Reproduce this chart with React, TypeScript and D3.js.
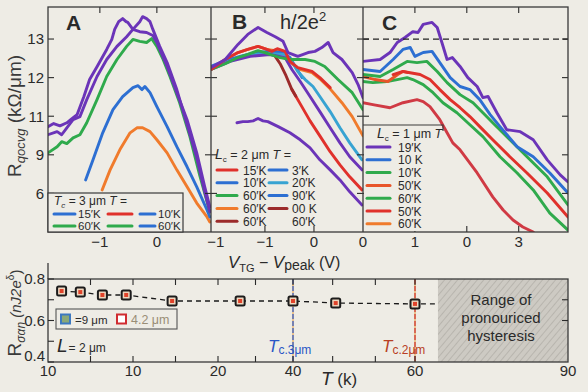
import React from 'react';
import * as d3 from 'd3';

type Pt = [number, number];

// ---------- top row: R vs V_TG - V_peak ----------
const levelTicks = [13, 12, 11, 10, 9];
const levelTickLabels = ['13', '12', '11', '9', '6'];

const aTicks = [-1, 0];
const aTickLabels = ['−1', '0'];
const bTicks = [-2, -1, 0, 1];
const bTickLabels = ['−1', '−1', '0', '0'];
const cTicks = [1, 2, 3];
const cTickLabels = ['1', '0', '3'];

// panel A (L = 3 um)
const aPurple1: Pt[] = [[-1.91,10.73],[-1.81,10.81],[-1.70,10.75],[-1.58,10.83],[-1.49,10.94],[-1.40,11.04],[-1.28,11.51],[-1.18,11.95],[-1.04,12.31],[-0.88,12.73],[-0.79,12.99],[-0.74,13.25],[-0.67,13.45],[-0.60,13.53],[-0.54,13.45],[-0.51,13.43],[-0.42,13.25],[-0.30,13.19],[-0.18,13.17],[-0.07,13.09],[0.00,12.91],[0.09,12.60],[0.18,12.29],[0.35,11.61],[0.53,10.91],[0.70,10.05],[0.84,9.17],[0.93,8.65]];
const aPurple2: Pt[] = [[-1.91,10.52],[-1.75,10.60],[-1.67,10.52],[-1.58,10.70],[-1.47,10.91],[-1.35,10.99],[-1.23,11.43],[-1.05,12.03],[-0.88,12.47],[-0.70,12.81],[-0.53,13.06],[-0.42,13.25],[-0.30,13.45],[-0.25,13.58],[-0.18,13.53],[-0.12,13.45],[-0.07,13.25],[0.05,12.81],[0.18,12.39],[0.35,11.69],[0.53,10.78],[0.70,9.92],[0.84,9.04],[0.93,8.52]];
const aGreen: Pt[] = [[-1.91,10.05],[-1.75,10.21],[-1.67,10.34],[-1.58,10.29],[-1.47,10.44],[-1.35,10.52],[-1.23,10.83],[-1.05,11.43],[-0.88,12.03],[-0.70,12.47],[-0.53,12.81],[-0.42,12.99],[-0.30,12.94],[-0.18,12.91],[-0.09,13.01],[0.00,12.81],[0.11,12.47],[0.23,12.03],[0.40,11.35],[0.58,10.47],[0.75,9.48],[0.93,8.52]];
const aBlue: Pt[] = [[-1.25,9.35],[-1.12,9.87],[-0.95,10.57],[-0.77,11.17],[-0.60,11.51],[-0.42,11.74],[-0.33,11.79],[-0.26,11.69],[-0.21,11.77],[-0.12,11.61],[0.00,11.25],[0.18,10.73],[0.35,10.21],[0.53,9.69],[0.70,9.17],[0.88,8.57],[0.93,8.39]];
const aOrange: Pt[] = [[-0.96,9.09],[-0.82,9.61],[-0.65,10.13],[-0.47,10.57],[-0.35,10.70],[-0.25,10.70],[-0.12,10.60],[0.00,10.39],[0.18,10.05],[0.35,9.61],[0.53,9.17],[0.70,8.75],[0.88,8.39],[0.93,8.26]];

// panel B (L = 2 um)
const bPurpleTop: Pt[] = [[-2.10,12.26],[-1.81,12.47],[-1.55,12.86],[-1.35,13.12],[-1.14,13.30],[-0.96,13.17],[-0.79,13.06],[-0.63,12.94],[-0.53,12.65],[-0.33,12.55],[-0.12,12.65],[0.02,12.68],[0.16,12.78],[0.29,12.91],[0.39,12.65],[0.57,12.47],[0.78,12.13],[0.90,11.82],[1.00,11.48]];
const bGreen: Pt[] = [[-2.10,12.21],[-1.81,12.36],[-1.55,12.52],[-1.35,12.60],[-1.14,12.70],[-1.00,12.65],[-0.90,12.60],[-0.69,12.52],[-0.49,12.47],[-0.18,12.47],[0.02,12.42],[0.22,12.29],[0.49,11.95],[0.78,11.61],[1.00,11.17]];
const bRedTop: Pt[] = [[-2.10,12.21],[-1.81,12.47],[-1.55,12.65],[-1.35,12.73],[-1.14,12.81],[-0.96,12.73],[-0.86,12.68],[-0.75,12.75],[-0.59,12.68],[-0.49,12.42],[-0.33,12.26],[-0.04,12.16],[0.12,12.00],[0.33,11.74]];
const bOrange: Pt[] = [[-2.10,12.21],[-1.81,12.47],[-1.55,12.65],[-1.35,12.73],[-1.14,12.81],[-0.96,12.73],[-0.59,12.66],[-0.49,12.42],[-0.33,12.23],[-0.04,12.13],[0.12,11.97],[0.33,11.71],[0.57,11.35],[0.78,10.99],[1.00,10.49]];
const bBlue: Pt[] = [[-2.10,12.29],[-1.81,12.44],[-1.51,12.55],[-1.20,12.65],[-0.90,12.68],[-0.65,12.65],[-0.49,12.52],[-0.37,12.26],[-0.24,12.00]];
const bTeal: Pt[] = [[-2.10,12.23],[-1.81,12.39],[-1.51,12.52],[-1.20,12.60],[-0.90,12.62],[-0.59,12.60],[-0.45,12.42],[-0.33,12.16],[-0.18,11.95],[-0.02,11.77],[0.12,11.51],[0.33,11.12],[0.53,10.70],[0.73,10.31],[0.98,9.87]];
const bPurpleMid: Pt[] = [[-2.10,12.21],[-1.71,12.42],[-1.30,12.55],[-0.90,12.60],[-0.59,12.52],[-0.45,12.21],[-0.28,11.90],[-0.08,11.51],[0.12,11.12],[0.33,10.70],[0.53,10.31],[0.73,9.95],[0.98,9.61]];
const bDarkRed: Pt[] = [[-0.79,12.55],[-0.69,12.36],[-0.57,12.05],[-0.45,11.69],[-0.37,11.52]];
const bRedSteep: Pt[] = [[-0.45,11.69],[-0.28,11.32],[-0.08,10.88],[0.12,10.49],[0.33,10.08],[0.53,9.74],[0.73,9.43],[0.98,9.09]];
const bPurpleLow: Pt[] = [[-1.57,10.83],[-1.45,10.86],[-1.35,10.86],[-1.24,10.88],[-1.14,10.94],[-1.04,10.88],[-0.94,10.86],[-0.73,10.73],[-0.49,10.57],[-0.28,10.39],[-0.08,10.18],[0.12,9.87],[0.33,9.61],[0.53,9.35],[0.73,9.04],[0.98,8.70]];

// panel C (L = 1 um)
const cPurple: Pt[] = [[0,12.42],[0.13,12.44],[0.33,12.47],[0.52,12.65],[0.66,12.91],[0.81,13.04],[0.96,13.19],[1.06,13.17],[1.16,13.38],[1.33,13.43],[1.43,13.30],[1.52,12.91],[1.62,12.47],[1.72,12.52],[1.87,12.29],[2.02,12.00],[2.20,11.77],[2.31,11.48],[2.41,11.51],[2.58,11.09],[2.77,10.65],[3.03,10.60],[3.28,10.39],[3.55,9.87],[3.80,9.48],[3.95,9.30]];
const cBlue: Pt[] = [[0,12.21],[0.33,12.16],[0.58,12.47],[0.77,12.73],[0.91,12.78],[1.00,12.55],[1.16,12.65],[1.33,12.68],[1.48,12.39],[1.68,12.00],[1.87,11.77],[2.06,11.69],[2.25,11.43],[2.45,11.04],[2.64,10.73],[2.97,10.21],[3.28,9.95],[3.60,9.53],[3.95,9.01]];
const cGreen1: Pt[] = [[0,12.08],[0.33,12.03],[0.58,12.21],[0.85,12.42],[1.04,12.39],[1.23,12.42],[1.43,12.16],[1.62,11.87],[1.87,11.56],[2.12,11.35],[2.31,11.09],[2.50,10.83],[2.83,10.39],[3.16,9.95],[3.55,9.43],[3.95,8.70]];
const cOrange: Pt[] = [[0,12.03],[0.23,11.95],[0.48,11.90],[0.67,12.08],[0.77,12.16],[0.87,12.13]];
const cRed: Pt[] = [[0.58,12.08],[0.77,12.16],[1.10,12.08],[1.29,11.95],[1.48,11.69],[1.68,11.43],[1.87,11.22],[2.06,10.99],[2.25,10.73],[2.50,10.39],[2.83,9.95],[3.16,9.53],[3.55,9.01],[3.95,8.39]];
const cGreen2: Pt[] = [[0,11.90],[0.19,11.87],[0.46,11.90],[0.66,11.95],[0.85,12.00],[0.96,11.95],[1.16,11.82],[1.35,11.61],[1.54,11.35],[1.81,11.09],[2.06,10.78],[2.31,10.47],[2.64,9.95],[2.97,9.53],[3.28,9.09],[3.60,8.49],[3.95,8.05]];
const cCrimson: Pt[] = [[0,11.35],[0.19,11.30],[0.52,11.22],[0.77,11.35],[1.04,11.43],[1.16,11.38],[1.29,11.25],[1.48,10.91],[1.62,10.57],[1.73,10.31],[1.87,10.13],[2.20,9.53],[2.50,8.91],[2.70,8.57],[2.89,8.31],[3.08,8.13],[3.28,8.0]];
const cGuideLevel = 13;

// legends (top row)
const aLegendLabels = ['15′K', '', '10′K', '60′K', '', '60′K'];
const bLegendLeft = ['15′K', '10′K', '60′K', '60′K', '60′K'];
const bLegendRight = ['3′K', '20′K', '90′K', '00 K', '60′K'];
const cLegendLabels = ['19′K', '10 K', '10′K', '50′K', '60′K', '50′K', '60′K'];

// ---------- bottom row: R vs T ----------
const tempTicks = [10, 15, 20, 40, 60, 90];
const tempTickLabels = ['10', '10', '20', '40', '60', '90'];
const tempMinor = [12.5, 17.5, 30, 46.5, 53.5];
const rTicks = [0.8, 0.6, 0.4];
const rMinor = [0.7, 0.5];
const tempPts = [10.8, 11.9, 13.2, 14.6, 17.3, 25.9, 40, 47.0, 60];
const rPts = [0.742, 0.737, 0.723, 0.723, 0.694, 0.694, 0.694, 0.684, 0.680];
const guideEnd: Pt = [63.9, 0.680];
const tc3 = 40;
const tc2 = 60;
const hysteresisRange = [64.5, 90];

const C = {
  purple: '#6b34b8', green: '#2faa4c', blue: '#2d6fd2', teal: '#37a3d2',
  orange: '#f07b2c', red: '#e0312b', darkRed: '#9c2b2b', crimson: '#d03a44', redOrange: '#e8552a',
};
const bg = '#eeece5';
const ink = '#2a2a2a';
const font = 'Liberation Sans, Arial, sans-serif';

const top = 7, bottom = 232;
const yTop = d3.scaleLinear().domain([8, 13.83]).range([bottom, top]);
const xA = d3.scaleLinear().domain([-1.91, 0.95]).range([48, 211]);
const xB = d3.scaleLinear().domain([-2.1, 1.0]).range([211, 363]);
const xC = d3.scaleLinear().domain([0, 3.95]).range([363, 568]);

const yBot = d3.scaleLinear().domain([0.4, 0.8]).range([362, 279]);
const xBot = d3.scaleLinear().domain(tempTicks).range([48, 133, 218, 293, 415, 568]);

const Panel = ({ id, x, series, ticks, tickLabels }: any) => {
  const [x0, x1] = x.range();
  const line = d3.line<Pt>().x(d => x(d[0])).y(d => yTop(d[1]));
  return (
    <g>
      <clipPath id={id}><rect x={x0} y={top} width={x1 - x0} height={bottom - top} /></clipPath>
      <g clipPath={`url(#${id})`}>
        {series.map((s: any, i: number) => (
          <path key={i} d={line(s.pts) || ''} fill="none" stroke={s.color} strokeWidth={2.9}
            strokeLinejoin="round" strokeLinecap="round" />
        ))}
      </g>
      {levelTicks.map(v => (
        <g key={v} stroke={ink} strokeWidth={1.1}>
          <line x1={x0} x2={x0 + 6} y1={yTop(v)} y2={yTop(v)} />
          <line x1={x1 - 6} x2={x1} y1={yTop(v)} y2={yTop(v)} />
        </g>
      ))}
      {ticks.map((v: number, i: number) => {
        const px = x(v);
        const inner = px > x0 + 8 && px < x1 - 2;
        return (
          <g key={i}>
            {inner && <line x1={px} x2={px} y1={top} y2={top + 6} stroke={ink} strokeWidth={1.1} />}
            {inner && <line x1={px} x2={px} y1={bottom - 6} y2={bottom} stroke={ink} strokeWidth={1.1} />}
            <text x={px} y={247} textAnchor="middle" fontSize={15} fill={ink}>{tickLabels[i]}</text>
          </g>
        );
      })}
    </g>
  );
};

const App = () => {
  const seriesA = [
    { pts: aOrange, color: C.orange }, { pts: aBlue, color: C.blue }, { pts: aGreen, color: C.green },
    { pts: aPurple2, color: C.purple }, { pts: aPurple1, color: C.purple },
  ];
  const seriesB = [
    { pts: bPurpleLow, color: C.purple }, { pts: bOrange, color: C.orange }, { pts: bBlue, color: C.blue },
    { pts: bTeal, color: C.teal }, { pts: bPurpleMid, color: C.purple }, { pts: bRedSteep, color: C.red },
    { pts: bDarkRed, color: C.darkRed }, { pts: bGreen, color: C.green }, { pts: bRedTop, color: C.red },
    { pts: bPurpleTop, color: C.purple },
  ];
  const seriesC = [
    { pts: cCrimson, color: C.crimson }, { pts: cGreen2, color: C.green }, { pts: cOrange, color: C.redOrange },
    { pts: cRed, color: C.red }, { pts: cGreen1, color: C.green }, { pts: cBlue, color: C.blue },
    { pts: cPurple, color: C.purple },
  ];
  const aLegendColors = [C.blue, C.red, C.blue, C.green, C.green, C.blue];
  const bLeftColors = [C.red, C.blue, C.green, C.orange, C.darkRed];
  const bRightColors = [C.blue, C.teal, C.blue, C.darkRed, null];
  const cLegendColors = [C.purple, C.blue, C.green, C.redOrange, C.green, C.red, C.orange];

  const guide = d3.line<Pt>().x(d => xBot(d[0])).y(d => yBot(d[1]));
  const guidePts: Pt[] = [...tempPts.map((t, i) => [t, rPts[i]] as Pt), guideEnd];
  const hx0 = xBot(hysteresisRange[0]), hx1 = xBot(hysteresisRange[1]);

  return (
    <svg width={588} height={392} style={{ position: 'absolute', left: 0, top: 0 }} fontFamily={font}>
      <defs>
        <pattern id="hatch" width={5} height={5} patternUnits="userSpaceOnUse" patternTransform="rotate(40)">
          <rect width={5} height={5} fill="#cdcac3" />
          <line x1={0} y1={0} x2={0} y2={5} stroke="#b3b0a9" strokeWidth={1.6} />
        </pattern>
      </defs>
      <rect width={588} height={392} fill={bg} />

      {/* ---- top row ---- */}
      <Panel id="pa" x={xA} series={seriesA} ticks={aTicks} tickLabels={aTickLabels} />
      <Panel id="pb" x={xB} series={seriesB} ticks={bTicks} tickLabels={bTickLabels} />
      <Panel id="pc" x={xC} series={seriesC} ticks={cTicks} tickLabels={cTickLabels} />
      <line x1={xC(0)} x2={xC(3.95)} y1={yTop(cGuideLevel)} y2={yTop(cGuideLevel)} stroke="#222"
        strokeWidth={1.3} strokeDasharray="6,4" />
      <rect x={48} y={top} width={520} height={bottom - top} fill="none" stroke="#3a3a3a" strokeWidth={1.3} />
      <line x1={211} x2={211} y1={top} y2={bottom} stroke="#3a3a3a" strokeWidth={1.3} />
      <line x1={363} x2={363} y1={top} y2={bottom} stroke="#3a3a3a" strokeWidth={1.3} />
      {levelTicks.map((v, i) => (
        <text key={v} x={44} y={yTop(v)} dy="0.36em" textAnchor="end" fontSize={15} fill={ink}>{levelTickLabels[i]}</text>
      ))}

      <text x={66} y={30} fontSize={21} fontWeight="bold" fill={ink}>A</text>
      <text x={232} y={29} fontSize={21} fontWeight="bold" fill={ink}>B</text>
      <text x={280} y={29} fontSize={20} fill={ink}>h/2e<tspan fontSize={13} dy={-8}>2</tspan></text>
      <text x={382} y={30} fontSize={21} fontWeight="bold" fill={ink}>C</text>

      {/* legend A */}
      <rect x={48} y={193} width={135} height={39} fill={bg} stroke="#3a3a3a" strokeWidth={1.2} />
      <text x={54} y={205} fontSize={12} fill={ink}>
        <tspan fontStyle="italic">T</tspan><tspan fontSize={8} dy={3} fontStyle="italic">c</tspan>
        <tspan dy={-3}> = 3 μm  </tspan><tspan fontStyle="italic">T</tspan><tspan> =</tspan>
      </text>
      {aLegendLabels.map((lab, i) => {
        const row = Math.floor(i / 3), col = i % 3;
        const y = 214 + row * 12;
        const lx = [54, 108, 140][col], lw = [21, 24, 15][col];
        return (
          <g key={i}>
            <line x1={lx} x2={lx + lw} y1={y} y2={y} stroke={aLegendColors[i]} strokeWidth={3} strokeLinecap="round" />
            {lab && <text x={col === 0 ? 78 : 158} y={y + 4} fontSize={11.5} fill={ink}>{lab}</text>}
          </g>
        );
      })}

      {/* legend B */}
      <text x={215} y={159} fontSize={12.5} fill={ink}>
        <tspan fontStyle="italic" fontSize={14}>L</tspan><tspan fontSize={8} dy={3}>c</tspan>
        <tspan dy={-3}> = 2 μm  </tspan><tspan fontStyle="italic">T</tspan><tspan> =</tspan>
      </text>
      {bLegendLeft.map((lab, i) => {
        const y = 170 + i * 12.8;
        return (
          <g key={i}>
            <line x1={217} x2={237} y1={y} y2={y} stroke={bLeftColors[i]} strokeWidth={3} strokeLinecap="round" />
            <text x={243} y={y + 4.5} fontSize={12} fill={ink}>{lab}</text>
            {bRightColors[i] && <line x1={269} x2={287} y1={y} y2={y} stroke={bRightColors[i] as string} strokeWidth={3} strokeLinecap="round" />}
            <text x={292} y={y + 4.5} fontSize={12} fill={ink}>{bLegendRight[i]}</text>
          </g>
        );
      })}

      {/* legend C */}
      <path d="M363,125H443V131" fill="none" stroke="#3a3a3a" strokeWidth={1.1} />
      <rect x={364} y={126} width={78} height={105} fill={bg} />
      <text x={377} y={138} fontSize={12.5} fill={ink}>
        <tspan fontStyle="italic" fontSize={14}>L</tspan><tspan fontSize={8} dy={3}>c</tspan>
        <tspan dy={-3}> = 1 μm </tspan><tspan fontStyle="italic">T</tspan>
      </text>
      {cLegendLabels.map((lab, i) => {
        const y = 147 + i * 12.8;
        return (
          <g key={i}>
            <line x1={367} x2={390} y1={y} y2={y} stroke={cLegendColors[i]} strokeWidth={3} strokeLinecap="round" />
            <text x={398} y={y + 4.5} fontSize={12} fill={ink}>{lab}</text>
          </g>
        );
      })}

      <text x={228} y={268} fontSize={16} fill={ink}>
        <tspan fontStyle="italic" fontSize={17}>V</tspan><tspan fontSize={11} dy={4}>TG</tspan>
        <tspan dy={-4}> − </tspan><tspan fontStyle="italic" fontSize={17}>V</tspan>
        <tspan fontSize={14} dy={2}>peak</tspan><tspan dy={-2}> (V)</tspan>
      </text>
      <text transform="translate(21,116) rotate(-90)" textAnchor="middle" fontSize={19} fill="#3a3a3a">
        <tspan>R</tspan><tspan fontSize={13} dy={4} fontStyle="italic">qocvg</tspan>
        <tspan dy={-4}> (kΩ/μm)</tspan>
      </text>

      {/* ---- bottom row ---- */}
      <rect x={hx0} y={yBot(0.8)} width={hx1 - hx0} height={yBot(0.4) - yBot(0.8)} fill="url(#hatch)" />
      <text x={(hx0 + hx1) / 2 - 2} fontSize={15} textAnchor="middle" fill={ink}>
        <tspan x={(hx0 + hx1) / 2 - 2} y={305}>Range of</tspan>
        <tspan x={(hx0 + hx1) / 2 - 2} y={323}>pronouriced</tspan>
        <tspan x={(hx0 + hx1) / 2 - 2} y={341}>hysteresis</tspan>
      </text>

      <line x1={xBot(tc3)} x2={xBot(tc3)} y1={yBot(0.8)} y2={yBot(0.4)} stroke="#e79a3a" strokeWidth={1} />
      <line x1={xBot(tc3)} x2={xBot(tc3)} y1={yBot(0.8)} y2={yBot(0.4)} stroke="#2a56c6" strokeWidth={1.2} strokeDasharray="5,2" />
      <line x1={xBot(tc2)} x2={xBot(tc2)} y1={yBot(0.8)} y2={yBot(0.4)} stroke="#e79a3a" strokeWidth={1} />
      <line x1={xBot(tc2)} x2={xBot(tc2)} y1={yBot(0.8)} y2={yBot(0.4)} stroke="#cc3030" strokeWidth={1.2} strokeDasharray="5,2" />

      <path d={guide(guidePts) || ''} fill="none" stroke="#1a1a1a" strokeWidth={1.3} strokeDasharray="5,4" />
      {tempPts.map((t, i) => (
        <g key={i} transform={`translate(${xBot(t)},${yBot(rPts[i])})`}>
          <rect x={-4.5} y={-4.5} width={9} height={9} rx={1.5} fill="#eed8c0" stroke="#1c1c1c" strokeWidth={2} />
          <rect x={-2} y={-2} width={4} height={4} fill="#e0432a" />
        </g>
      ))}

      <rect x={48} y={yBot(0.8)} width={520} height={yBot(0.4) - yBot(0.8)} fill="none" stroke="#3a3a3a" strokeWidth={1.3} />
      <line x1={48} x2={48} y1={263} y2={yBot(0.8)} stroke="#3a3a3a" strokeWidth={1.3} />
      {[...rTicks, ...rMinor].map(v => (
        <line key={v} x1={48} x2={54} y1={yBot(v)} y2={yBot(v)} stroke={ink} strokeWidth={1.1} />
      ))}
      {[0.7, 0.6].map(v => (
        <line key={v} x1={562} x2={568} y1={yBot(v)} y2={yBot(v)} stroke={ink} strokeWidth={1.1} />
      ))}
      {rTicks.map(v => (
        <text key={v} x={45} y={yBot(v) - (v === 0.4 ? 6 : 0)} dy="0.36em" textAnchor="end" fontSize={15} fill={ink}>{v.toFixed(1)}</text>
      ))}
      {[...tempTicks.slice(1, -1), ...tempMinor].map(v => (
        <g key={v} stroke={ink} strokeWidth={1.1}>
          <line x1={xBot(v)} x2={xBot(v)} y1={yBot(0.4) - 6} y2={yBot(0.4)} />
          <line x1={xBot(v)} x2={xBot(v)} y1={yBot(0.8)} y2={yBot(0.8) + 6} />
        </g>
      ))}
      {tempTicks.map((v, i) => (
        <text key={v} x={xBot(v)} y={376} textAnchor="middle" fontSize={15} fill={ink}>{tempTickLabels[i]}</text>
      ))}
      <text x={321} y={385} fontSize={17} fill={ink}>
        <tspan fontStyle="italic" fontSize={19}>T</tspan><tspan> (k)</tspan>
      </text>

      {/* legend bottom */}
      <rect x={56} y={309} width={121} height={20} fill={bg} stroke="#555" strokeWidth={1.1} />
      <rect x={61} y={314.5} width={9} height={9} fill="#8aa878" stroke="#3c78c0" strokeWidth={2} />
      <text x={75} y={323.5} fontSize={11.5} fill={ink}>=9 μm</text>
      <rect x={117} y={314.5} width={9} height={9} fill="#fff" stroke="#d02c30" strokeWidth={2} />
      <text x={131} y={324} fontSize={12.5} fill="#9a8e76">4.2 μm</text>

      <text x={57} y={352} fontSize={12} fill={ink}>
        <tspan fontStyle="italic" fontSize={19}>L</tspan><tspan dx={1}>= 2 μm</tspan>
      </text>
      <text x={xBot(tc3) - 25} y={352} fontSize={12} fill="#2a56c6">
        <tspan fontStyle="italic" fontSize={17}>T</tspan><tspan dy={2}>c.3μm</tspan>
      </text>
      <text x={xBot(tc2) - 33} y={352} fontSize={12} fill="#b84024">
        <tspan fontStyle="italic" fontSize={17}>T</tspan><tspan dy={2}>c.2μm</tspan>
      </text>

      <text transform="translate(21,313) rotate(-90)" textAnchor="middle" fontSize={19} fill="#3a3a3a">
        <tspan>R</tspan><tspan fontSize={12} dy={4} fontStyle="italic">σαn</tspan>
        <tspan dy={-4} fontSize={15} fontStyle="italic"> (nJ2e</tspan><tspan fontSize={10} dy={-7}>δ</tspan>
        <tspan dy={7} fontSize={15}>)</tspan>
      </text>
    </svg>
  );
};

export default App;
